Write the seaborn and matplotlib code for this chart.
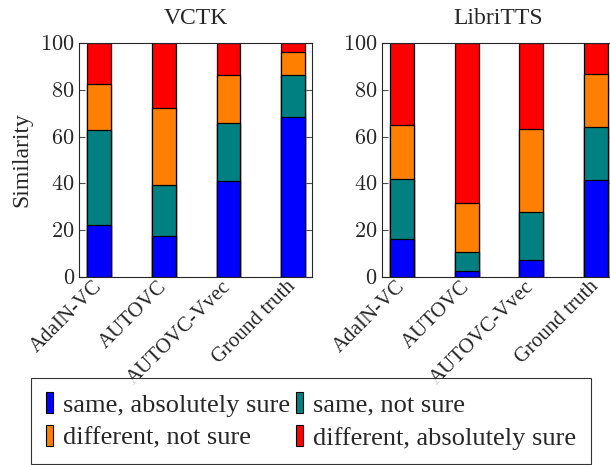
import numpy as np
import pandas as pd
import matplotlib
matplotlib.use("Agg")
import matplotlib.pyplot as plt
from matplotlib.patches import Patch
from matplotlib.ticker import FuncFormatter
import seaborn as sns

# systems on the x axis
systems = ["AdaIN-VC", "AUTOVC", "AUTOVC-Vvec", "Ground truth"]
answers = ["same, absolutely sure", "same, not sure",
           "different, not sure", "different, absolutely sure"]
colors = ["#0000ff", "#008080", "#ff8000", "#ff0000"]

# percentages, one list per answer
vctk_same_sure = [22.4, 17.7, 40.9, 68.3]
vctk_same_notsure = [40.3, 21.6, 25.1, 18.1]
vctk_diff_notsure = [19.9, 32.8, 20.3, 10.0]
vctk_diff_sure = [17.4, 27.9, 13.7, 3.6]

libri_same_sure = [16.3, 2.4, 7.1, 41.3]
libri_same_notsure = [25.8, 8.5, 20.5, 22.7]
libri_diff_notsure = [22.8, 20.8, 35.5, 22.6]
libri_diff_sure = [35.1, 68.3, 36.9, 13.4]

datasets = {
    "VCTK": [vctk_same_sure, vctk_same_notsure, vctk_diff_notsure, vctk_diff_sure],
    "LibriTTS": [libri_same_sure, libri_same_notsure, libri_diff_notsure, libri_diff_sure],
}

sns.set_theme(style="white")
plt.rcParams["font.family"] = ["Liberation Serif", "DejaVu Serif"]
plt.rcParams["mathtext.fontset"] = "cm"

fig = plt.figure(figsize=(6.1, 4.65), dpi=100)
ax_pos = [[0.1295, 0.4043, 0.382, 0.503], [0.626, 0.4043, 0.382, 0.503]]

for i, (name, parts) in enumerate(datasets.items()):
    ax = fig.add_axes(ax_pos[i])
    cum = np.cumsum(np.array(parts), axis=0)
    # draw tallest stack first so lower segments sit on top
    for k in range(len(answers) - 1, -1, -1):
        df = pd.DataFrame({"system": systems, "value": cum[k]})
        sns.barplot(data=df, x="system", y="value", color=colors[k], saturation=1,
                    width=0.37, edgecolor="black", linewidth=0.9, ax=ax)
    ax.set_xlim(-0.31, 3.29)
    ax.set_ylim(0, 100)
    ax.set_yticks([0, 20, 40, 60, 80, 100])
    ax.yaxis.set_major_formatter(FuncFormatter(lambda v, p: f"${v:.0f}$"))
    ax.set_title(name, fontsize=17, pad=14)
    ax.set_xlabel("")
    ax.set_ylabel("Similarity" if i == 0 else "", fontsize=17, labelpad=6)
    ax.tick_params(axis="y", direction="in", length=4, width=0.8, right=True,
                   left=True, labelsize=16, pad=3, color="0.3")
    ax.tick_params(axis="x", length=0, labelsize=15, pad=5)
    plt.setp(ax.get_xticklabels(), rotation=45, ha="right", va="center",
             rotation_mode="anchor")
    for s in ax.spines.values():
        s.set_visible(True)
        s.set_color("0.15")
        s.set_linewidth(0.8)

handles = [Patch(facecolor=c, edgecolor="black", linewidth=0.8) for c in colors]
order = [0, 2, 1, 3]
leg = fig.legend([handles[j] for j in order], [answers[j] for j in order],
                 loc="center", bbox_to_anchor=(0.51, 0.0946), ncol=2,
                 fontsize=19, handlelength=0.27, handleheight=0.85,
                 handletextpad=0.4, columnspacing=0.2, labelspacing=0.3,
                 borderpad=0.55, frameon=True, fancybox=False)
leg.get_frame().set_edgecolor("black")
leg.get_frame().set_linewidth(0.8)

fig.savefig("out.png", dpi=100)
